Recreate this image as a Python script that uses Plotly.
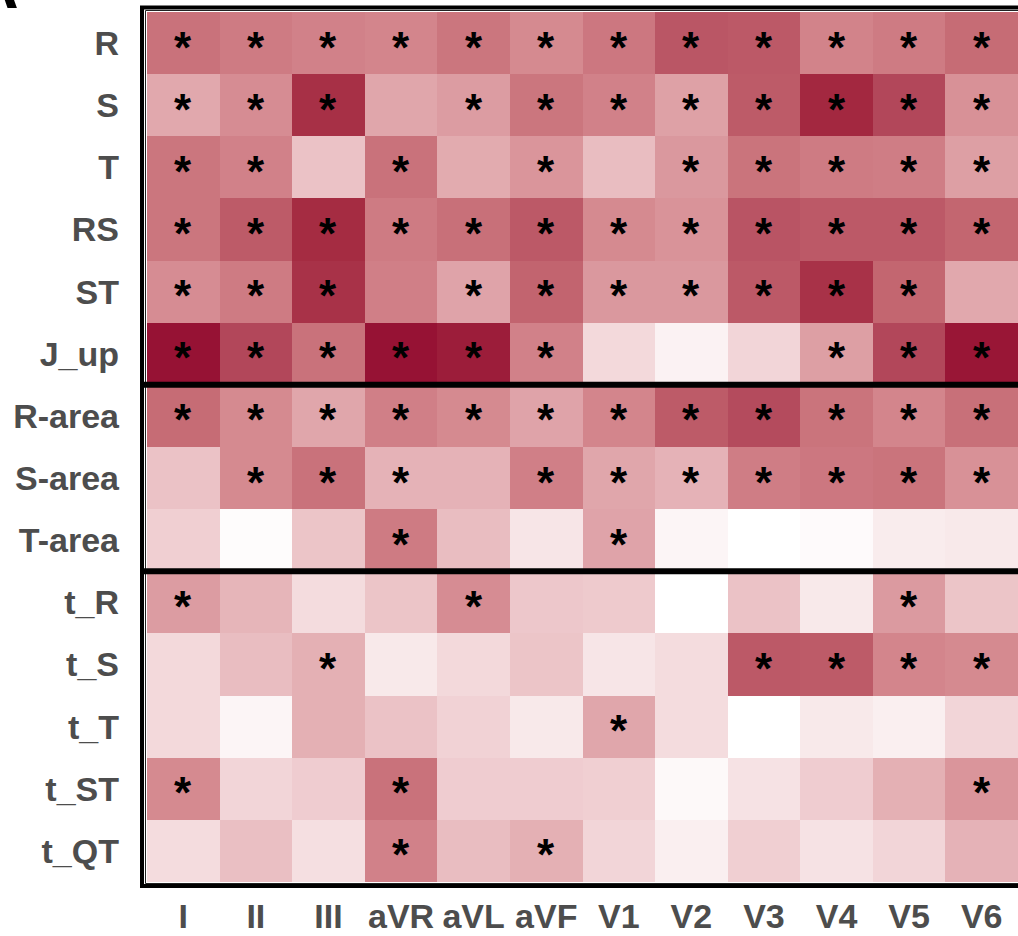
import plotly.graph_objects as go

leads = ["I", "II", "III", "aVR", "aVL", "aVF", "V1", "V2", "V3", "V4", "V5", "V6"]
features = ["R", "S", "T", "RS", "ST", "J_up",
            "R-area", "S-area", "T-area",
            "t_R", "t_S", "t_T", "t_ST", "t_QT"]
group_sizes = [6, 3, 5]

# colour intensity per feature (row) and lead (column)
val_R      = [0.55, 0.50, 0.47, 0.45, 0.53, 0.43, 0.52, 0.68, 0.67, 0.46, 0.50, 0.58]
val_S      = [0.30, 0.42, 0.86, 0.31, 0.35, 0.53, 0.47, 0.33, 0.66, 0.90, 0.75, 0.40]
val_T      = [0.53, 0.47, 0.20, 0.55, 0.29, 0.38, 0.22, 0.37, 0.54, 0.50, 0.49, 0.34]
val_RS     = [0.53, 0.66, 0.88, 0.50, 0.56, 0.67, 0.43, 0.39, 0.69, 0.67, 0.67, 0.61]
val_ST     = [0.42, 0.50, 0.85, 0.48, 0.32, 0.62, 0.37, 0.37, 0.67, 0.85, 0.61, 0.30]
val_J_up   = [1.00, 0.75, 0.55, 1.00, 0.95, 0.47, 0.12, 0.04, 0.13, 0.34, 0.75, 0.98]
val_Rarea  = [0.58, 0.43, 0.31, 0.48, 0.43, 0.32, 0.45, 0.66, 0.73, 0.54, 0.45, 0.56]
val_Sarea  = [0.20, 0.43, 0.55, 0.26, 0.26, 0.48, 0.31, 0.26, 0.49, 0.52, 0.54, 0.40]
val_Tarea  = [0.15, 0.01, 0.19, 0.50, 0.22, 0.08, 0.32, 0.03, 0.00, 0.015, 0.06, 0.07]
val_tR     = [0.35, 0.25, 0.11, 0.19, 0.42, 0.18, 0.17, 0.00, 0.20, 0.07, 0.36, 0.19]
val_tS     = [0.12, 0.22, 0.27, 0.07, 0.12, 0.19, 0.08, 0.11, 0.67, 0.66, 0.45, 0.43]
val_tT     = [0.12, 0.03, 0.27, 0.20, 0.14, 0.07, 0.31, 0.11, 0.00, 0.07, 0.05, 0.13]
val_tST    = [0.43, 0.13, 0.16, 0.55, 0.16, 0.16, 0.15, 0.02, 0.09, 0.16, 0.27, 0.38]
val_tQT    = [0.11, 0.21, 0.10, 0.47, 0.22, 0.27, 0.13, 0.05, 0.15, 0.09, 0.13, 0.26]

# significance flags (1 = asterisk) per feature, one character per lead
sig_R      = "111111111111"
sig_S      = "111011111111"
sig_T      = "110101011111"
sig_RS     = "111111111111"
sig_ST     = "111011111110"
sig_J_up   = "111111000111"
sig_Rarea  = "111111111111"
sig_Sarea  = "011101111111"
sig_Tarea  = "000100100000"
sig_tR     = "100010000010"
sig_tS     = "001000001111"
sig_tT     = "000000100000"
sig_tST    = "100100000001"
sig_tQT    = "000101000000"

values = [val_R, val_S, val_T, val_RS, val_ST, val_J_up, val_Rarea, val_Sarea,
          val_Tarea, val_tR, val_tS, val_tT, val_tST, val_tQT]
signif = [sig_R, sig_S, sig_T, sig_RS, sig_ST, sig_J_up, sig_Rarea, sig_Sarea,
          sig_Tarea, sig_tR, sig_tS, sig_tT, sig_tST, sig_tQT]

colorscale = [
    [0.00, "#FFFFFF"],
    [0.15, "#F0CFD2"],
    [0.30, "#E1A8AD"],
    [0.45, "#D3858C"],
    [0.60, "#C46872"],
    [0.75, "#B2475A"],
    [0.88, "#A52C42"],
    [1.00, "#961234"],
]

W, H = 1018, 936
L, R, T, B = 147, 0, 12, 54
pw, ph = W - L - R, H - T - B


def xp(px):
    return (px - L) / pw


def yp(py):
    return (H - B - py) / ph


fig = go.Figure(
    go.Heatmap(
        z=values, x=leads, y=features,
        colorscale=colorscale, zmin=0, zmax=1,
        showscale=False, hoverinfo="skip",
    )
)

annotations = []
for i, feat in enumerate(features):
    for j, lead in enumerate(leads):
        if signif[i][j] == "1":
            annotations.append(dict(
                x=lead, y=feat, xref="x", yref="y", text="<b>*</b>",
                showarrow=False, yshift=-4,
                font=dict(family="Liberation Sans", size=44, color="black"),
            ))

annotations.append(dict(
    x=xp(21), y=yp(24), xref="paper", yref="paper", text="<b>A</b>",
    xanchor="right", yanchor="bottom", showarrow=False,
    font=dict(family="Liberation Sans", size=66, color="black"),
))

shapes = [
    dict(type="rect", xref="paper", yref="paper",
         x0=xp(142), x1=xp(1024), y0=yp(886), y1=yp(7.5),
         line=dict(color="black", width=4)),
    dict(type="rect", xref="paper", yref="paper",
         x0=xp(145.5), x1=xp(1020), y0=yp(883.5), y1=yp(10.5),
         line=dict(color="#222222", width=1)),
]
cum = 0
for g in group_sizes[:-1]:
    cum += g
    shapes.append(dict(type="line", xref="paper", yref="y",
                       x0=xp(140), x1=xp(1024), y0=cum - 0.5, y1=cum - 0.5,
                       line=dict(color="black", width=6)))

tickfont = dict(family="Liberation Sans", size=34, color="#4D4D4D", weight="bold")

fig.update_layout(
    width=W, height=H,
    margin=dict(l=L, r=R, t=T, b=B, pad=0, autoexpand=False),
    paper_bgcolor="white", plot_bgcolor="white",
    annotations=annotations, shapes=shapes,
    xaxis=dict(tickfont=tickfont, ticks="", showgrid=False, zeroline=False,
               showline=False, ticklabelstandoff=11, automargin=False),
    yaxis=dict(tickfont=tickfont, ticks="", showgrid=False, zeroline=False,
               showline=False, autorange="reversed", ticklabelstandoff=27,
               automargin=False),
)

fig.write_html(
    "out.html",
    config={"displayModeBar": False},
    post_script="document.body.style.margin='0';document.body.style.overflow='hidden';",
)
